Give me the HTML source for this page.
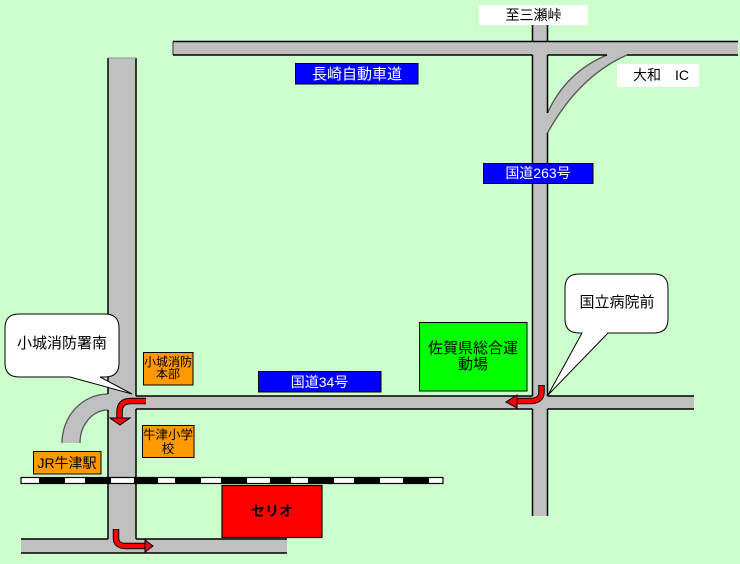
<!DOCTYPE html>
<html><head><meta charset="utf-8"><style>
html,body{margin:0;padding:0;background:#CCFFCC;}
svg{display:block;}
text{font-family:"Liberation Sans","Noto Sans CJK JP",sans-serif;}
</style></head><body>
<svg width="740" height="564" viewBox="0 0 740 564" xmlns="http://www.w3.org/2000/svg">
<rect x="0" y="0" width="740" height="564" fill="#CCFFCC"/>
<!-- road fills -->
<g fill="#C0C0C0">
<rect x="173" y="41.5" width="565" height="13.5"/>
<rect x="532.5" y="25" width="15" height="491"/>
<rect x="108" y="58" width="28" height="481"/>
<rect x="136" y="396" width="558" height="13"/>
<rect x="21" y="539" width="266" height="14"/>
<path d="M607,55 Q566,72 547.5,113 L547.5,133 Q579,76 627,55 Z"/>
<path d="M108,394 A46 49 0 0 0 62,443 L80,443 A28 33 0 0 1 108,410 Z"/>
</g>
<g stroke="#555" stroke-width="1.3" fill="none">
<path d="M607,55 Q566,72 547.5,113"/>
<path d="M547.5,133 Q579,76 627,55"/>
<path d="M108,394 A46 49 0 0 0 62,443"/>
<path d="M80,443 A28 33 0 0 1 108,410"/>
<line x1="173" y1="41.5" x2="173" y2="55"/>
</g>
<g stroke="#000" stroke-width="1.5" fill="none">
<!-- top road -->
<line x1="173" y1="41.5" x2="738" y2="41.5"/>
<line x1="173" y1="55" x2="532.5" y2="55"/>
<line x1="547.5" y1="55" x2="607" y2="55"/>
<line x1="627" y1="55" x2="738" y2="55"/>
<!-- right vertical -->
<line x1="532.5" y1="25" x2="532.5" y2="41.5"/>
<line x1="532.5" y1="55" x2="532.5" y2="396"/>
<line x1="532.5" y1="409" x2="532.5" y2="516"/>
<line x1="547.5" y1="25" x2="547.5" y2="41.5"/>
<line x1="547.5" y1="55" x2="547.5" y2="113"/>
<line x1="547.5" y1="133" x2="547.5" y2="396"/>
<line x1="547.5" y1="409" x2="547.5" y2="516"/>
<!-- left vertical -->
<line x1="108" y1="58" x2="108" y2="394"/>
<line x1="108" y1="410" x2="108" y2="539"/>
<line x1="136" y1="58" x2="136" y2="396"/>
<line x1="136" y1="409" x2="136" y2="539"/>
<!-- road 34 -->
<line x1="136" y1="396" x2="532.5" y2="396"/>
<line x1="547.5" y1="396" x2="694" y2="396"/>
<line x1="136" y1="409" x2="532.5" y2="409"/>
<line x1="547.5" y1="409" x2="694" y2="409"/>
<!-- bottom road -->
<line x1="21" y1="539" x2="108" y2="539"/>
<line x1="136" y1="539" x2="287" y2="539"/>
<line x1="21" y1="553" x2="287" y2="553"/>
</g>
<line x1="108" y1="58" x2="136" y2="58" stroke="#999" stroke-width="1"/>

<!-- railway -->
<rect x="21" y="477.5" width="422" height="6" fill="#fff" stroke="#000" stroke-width="1.2"/>
<g fill="#000">
<rect x="39" y="477.5" width="26" height="6"/>
<rect x="85" y="477.5" width="26" height="6"/>
<rect x="134" y="477.5" width="24" height="6"/>
<rect x="175" y="477.5" width="26" height="6"/>
<rect x="221" y="477.5" width="26" height="6"/>
<rect x="270" y="477.5" width="21" height="6"/>
<rect x="308" y="477.5" width="26" height="6"/>
<rect x="354" y="477.5" width="26" height="6"/>
<rect x="403" y="477.5" width="26" height="6"/>
</g>

<!-- Serio -->
<rect x="222" y="485.5" width="100" height="52" fill="#FF0000" stroke="#000" stroke-width="1.2"/>
<text x="272" y="516" font-size="14" font-weight="bold" text-anchor="middle" fill="#000">セリオ</text>

<!-- white labels -->
<rect x="479" y="5" width="109" height="20" fill="#fff"/>
<text x="533.5" y="20" font-size="14" text-anchor="middle" fill="#000">至三瀬峠</text>
<rect x="617" y="64" width="82" height="23" fill="#fff"/>
<text x="633" y="80" font-size="14" fill="#000">大和　IC</text>

<!-- blue labels -->
<rect x="295.5" y="63.5" width="122.5" height="20.5" fill="#0000FF" stroke="#000" stroke-width="1"/>
<text x="357" y="79" font-size="15" text-anchor="middle" fill="#fff">長崎自動車道</text>
<rect x="483.5" y="163.5" width="109.5" height="20" fill="#0000FF" stroke="#000" stroke-width="1"/>
<text x="538" y="178" font-size="14" text-anchor="middle" fill="#fff">国道263号</text>
<rect x="258.5" y="371.5" width="122.5" height="20.5" fill="#0000FF" stroke="#000" stroke-width="1"/>
<text x="319.5" y="387" font-size="14" text-anchor="middle" fill="#fff">国道34号</text>

<!-- green box -->
<rect x="419.5" y="322.5" width="107.5" height="68.5" fill="#00FF00" stroke="#000" stroke-width="1"/>
<text x="473" y="353" font-size="15" text-anchor="middle" fill="#000">佐賀県総合運</text>
<text x="473" y="369" font-size="15" text-anchor="middle" fill="#000">動場</text>

<!-- orange boxes -->
<rect x="143.5" y="352.5" width="49.5" height="32.5" fill="#FF9900" stroke="#000" stroke-width="1"/>
<text x="168" y="366" font-size="12" text-anchor="middle" fill="#000">小城消防</text>
<text x="168" y="378" font-size="12" text-anchor="middle" fill="#000">本部</text>
<rect x="142.5" y="425.5" width="51.5" height="32" fill="#FF9900" stroke="#000" stroke-width="1"/>
<text x="168" y="439" font-size="12.5" text-anchor="middle" fill="#000">牛津小学</text>
<text x="168" y="453" font-size="12.5" text-anchor="middle" fill="#000">校</text>
<rect x="33.5" y="451.5" width="67.5" height="22.5" fill="#FF9900" stroke="#000" stroke-width="1"/>
<text x="67" y="468" font-size="14" text-anchor="middle" fill="#000">JR牛津駅</text>

<!-- callouts -->
<path d="M19,314 H105 Q119,314 119,328 V363 Q119,377 105,377 H100 L132,394 L70,377 H19 Q5,377 5,363 V328 Q5,314 19,314 Z" fill="#fff" stroke="#000" stroke-width="1"/>
<text x="62" y="348" font-size="15" text-anchor="middle" fill="#000">小城消防署南</text>
<path d="M579,274 H654 Q668,274 668,288 V319 Q668,333 654,333 H608 L548,395 L582,333 H579 Q565,333 565,319 V288 Q565,274 579,274 Z" fill="#fff" stroke="#000" stroke-width="1"/>
<text x="617" y="307" font-size="15" text-anchor="middle" fill="#000">国立病院前</text>

<!-- red arrows -->
<g fill="none" stroke-linecap="butt">
<path d="M146,401 H131 Q119.5,401 119.5,412 V418" stroke="#000" stroke-width="6.5"/>
<path d="M146,401 H131 Q119.5,401 119.5,412 V419" stroke="#FF0000" stroke-width="4.5"/>
<path d="M541.5,385 V392 Q541.5,401 530,401 H517" stroke="#000" stroke-width="6.5"/>
<path d="M541.5,385.8 V392 Q541.5,401 530,401 H516" stroke="#FF0000" stroke-width="4.5"/>
<path d="M116,529 V538 Q116,546 126,546 H145" stroke="#000" stroke-width="6.5"/>
<path d="M116,529.8 V538 Q116,546 126,546 H146" stroke="#FF0000" stroke-width="4.5"/>
</g>
<g fill="#FF0000" stroke="#000" stroke-width="1">
<polygon points="110,418 130,418 120,425"/>
<polygon points="517,395 517,408 506,402"/>
<polygon points="145,540 145,552 153,546"/>
</g>
</svg>
</body></html>
